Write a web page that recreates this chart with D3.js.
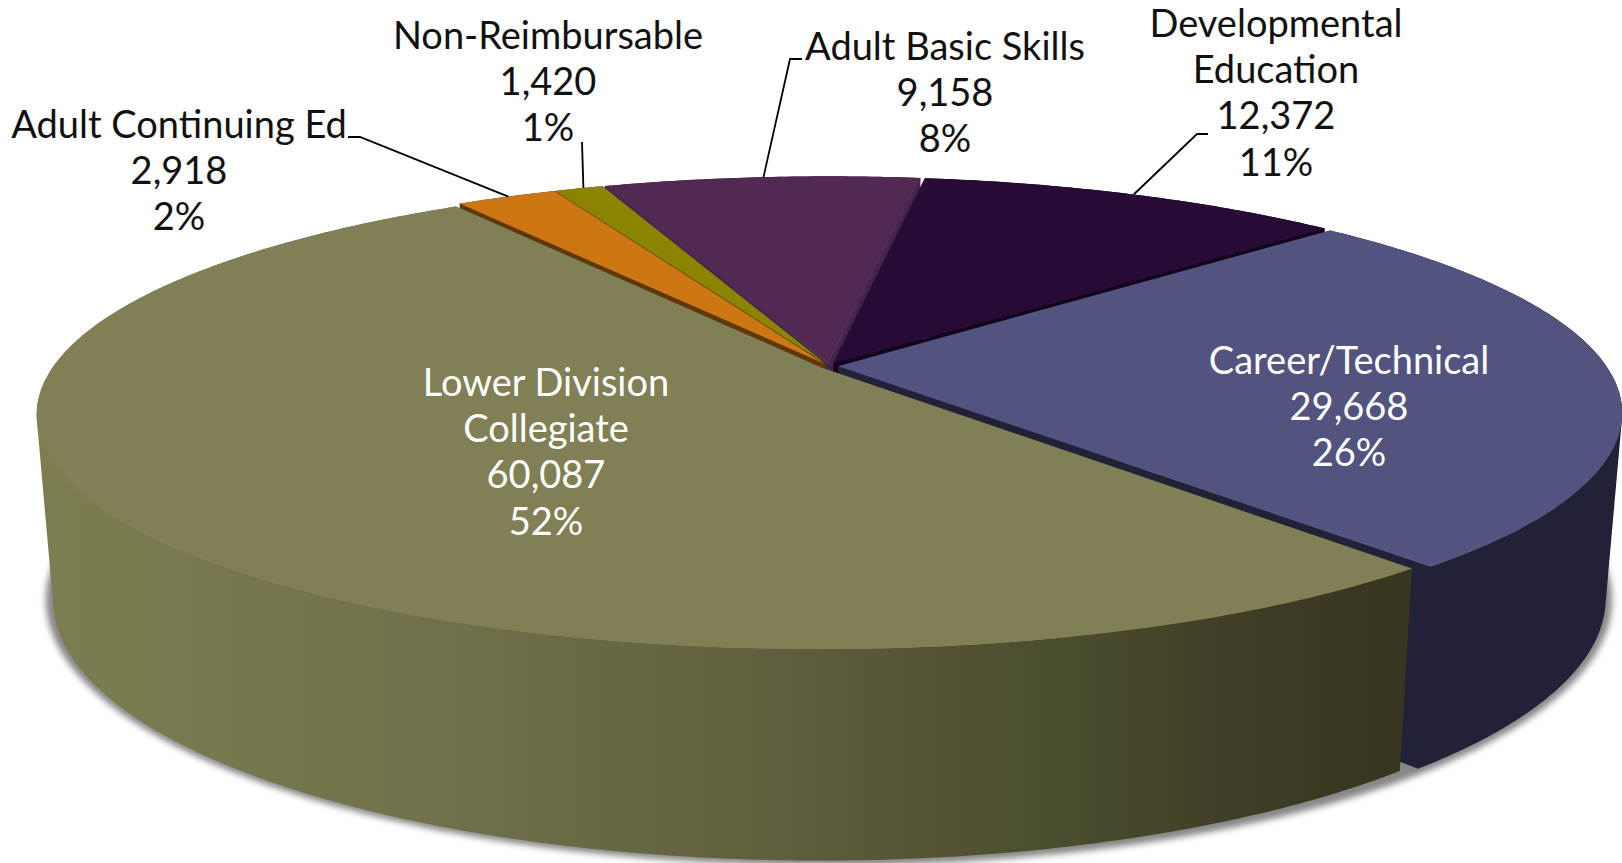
<!DOCTYPE html>
<html>
<head>
<meta charset="utf-8">
<script src="https://cdn.jsdelivr.net/npm/d3@7"></script>
<style>
  html, body { margin: 0; padding: 0; background: #fff; overflow: hidden; }
  svg { display: block; }
  text { font-family: Lato, "Open Sans", sans-serif; font-size: 38px; text-anchor: middle; }
</style>
</head>
<body>
<svg id="chart" width="1622" height="863"></svg>
<script>
// data, clockwise from the first slice
const categories = ['Career/Technical', 'Lower Division Collegiate', 'Adult Continuing Ed', 'Non-Reimbursable', 'Adult Basic Skills', 'Developmental Education'];
const values = [29668, 60087, 2918, 1420, 9158, 12372];
const percents = ['26%', '52%', '2%', '1%', '8%', '11%'];
const nameLines = [['Career/Technical'], ['Lower Division', 'Collegiate'], ['Adult Continuing Ed'], ['Non-Reimbursable'], ['Adult Basic Skills'], ['Developmental', 'Education']];

// colours per slice: top face, wall
const topColors = ['#53537f', '#817f55', '#cc7614', '#8a8400', '#522952', '#280a36'];
const wallColors = ['#212238', 'url(#lowerWall)', '#5e3808', '#403d00', '#43254a', '#13051b'];

// label layout: centre x, first line y, text colour
const labelPos = [
    {x: 1349, y: 360, fill: '#fff'},
    {x: 546, y: 382, fill: '#fff'},
    {x: 179, y: 124, fill: '#111'},
    {x: 548, y: 35, fill: '#111'},
    {x: 945, y: 46, fill: '#111'},
    {x: 1276, y: 23, fill: '#111'}
];
const lineStep = 46.3;

// leader lines: start by the label, optional elbow, rim angle in degrees
const leaders = [
    null,
    null,
    {start: [348, 137], elbow: [360, 137], angle: 331},
    {start: [582, 142], elbow: null, angle: 338},
    {start: [802, 59], elbow: [790, 59], angle: 354.2},
    {start: [1208, 134], elbow: [1197, 134], angle: 27.5}
];

const svg = d3.select('#chart');

// perspective of the disc: the near side of the pie looks bigger
const persp = 0.198;
const centerX = 829;
const levels = {
    top: {R: 768, S: 225, y: 366},
    bottom: {R: 752, S: 250, y: 546}
};
const explode = 0.012;
const firstSliceAngle = 46.8;

function project(u, v, level) {
    let l = levels[level];
    let w = 1 - persp * v;
    return [centerX + l.R * u / w, l.y + l.S * v / w];
}

let line = d3.line();
let pie = d3.pie()
    .sort(null)
    .value(d => d)
    .startAngle(firstSliceAngle * Math.PI / 180)
    .endAngle((firstSliceAngle + 360) * Math.PI / 180);

let slices = pie(values).map((d, i) => {
    let mid = (d.startAngle + d.endAngle) / 2;
    let ox = explode * Math.sin(mid);
    let oy = -explode * Math.cos(mid);
    let n = Math.max(4, Math.ceil((d.endAngle - d.startAngle) * 90));
    let rim = d3.range(n + 1).map(j => {
        let a = d.startAngle + (d.endAngle - d.startAngle) * j / n;
        return [ox + Math.sin(a), oy - Math.cos(a)];
    });
    return {i: i, mid: mid, hub: [ox, oy], rim: rim};
});

let defs = svg.append('defs');

let grad = defs.append('linearGradient')
    .attr('id', 'lowerWall')
    .attr('gradientUnits', 'userSpaceOnUse')
    .attr('x1', 34).attr('x2', 1414).attr('y1', 0).attr('y2', 0);
[[0, '#7c7e51'], [0.3, '#70714a'], [0.55, '#5e5e3c'], [0.78, '#48482c'], [0.95, '#393720'], [1, '#383520']]
    .forEach(s => grad.append('stop').attr('offset', s[0]).attr('stop-color', s[1]));

defs.append('filter')
    .attr('id', 'soft')
    .attr('x', '-5%').attr('y', '-5%').attr('width', '110%').attr('height', '110%')
    .append('feGaussianBlur')
    .attr('stdDeviation', 3);

// shadow under the pie
let shadowRim = d3.range(361).map(a => {
    let t = a * Math.PI / 180;
    return project(1.02 * Math.sin(t), 1.02 * -Math.cos(t), 'bottom');
});
svg.append('path')
    .attr('d', line(shadowRim) + 'Z')
    .attr('fill', '#555')
    .attr('opacity', 0.7)
    .attr('filter', 'url(#soft)');

// painter's order, far slices first
let order = slices.slice().sort((a, b) => (-Math.cos(a.mid)) - (-Math.cos(b.mid)));

let g = svg.selectAll('g.slice')
    .data(order)
    .enter()
    .append('g')
    .attr('class', 'slice');

// one quad between two neighbour points of the disc, always wound the same
// way so folded parts of the wall don't cancel out under nonzero fill
function wallQuad(p, q) {
    let quad = [project(p[0], p[1], 'top'), project(q[0], q[1], 'top'), project(q[0], q[1], 'bottom'), project(p[0], p[1], 'bottom')];
    if (d3.polygonArea(quad) < 0) quad.reverse();
    return line(quad) + 'Z';
}

// radial walls and outer wall
g.append('path')
    .attr('fill', d => wallColors[d.i])
    .attr('d', d => {
        let parts = [wallQuad(d.hub, d.rim[0]), wallQuad(d.hub, d.rim[d.rim.length - 1])];
        d3.pairs(d.rim).forEach(pair => parts.push(wallQuad(pair[0], pair[1])));
        return parts.join('');
    });

// top face
g.append('path')
    .attr('fill', d => topColors[d.i])
    .attr('d', d => {
        let pts = [d.hub].concat(d.rim).map(p => project(p[0], p[1], 'top'));
        return line(pts) + 'Z';
    });

// leader lines
leaders.forEach((l, i) => {
    if (!l) return;
    let t = l.angle * Math.PI / 180;
    let h = slices[i].hub;
    let end = project(h[0] + Math.sin(t), h[1] - Math.cos(t), 'top');
    let pts = [l.start];
    if (l.elbow) pts.push(l.elbow);
    pts.push(end);
    svg.append('path')
        .attr('d', line(pts))
        .attr('fill', 'none')
        .attr('stroke', '#000')
        .attr('stroke-width', 1.8);
});

// labels
let fmt = d3.format(',');
let labels = svg.selectAll('text.label')
    .data(categories)
    .enter()
    .append('text')
    .attr('class', 'label')
    .attr('fill', (d, i) => labelPos[i].fill);

labels.each(function(d, i) {
    let rows = nameLines[i].concat([fmt(values[i]), percents[i]]);
    d3.select(this).selectAll('tspan')
        .data(rows)
        .enter()
        .append('tspan')
        .attr('x', labelPos[i].x)
        .attr('y', (r, j) => labelPos[i].y + j * lineStep)
        .attr('dy', '0.36em')
        .text(r => r);
});
</script>
</body>
</html>
